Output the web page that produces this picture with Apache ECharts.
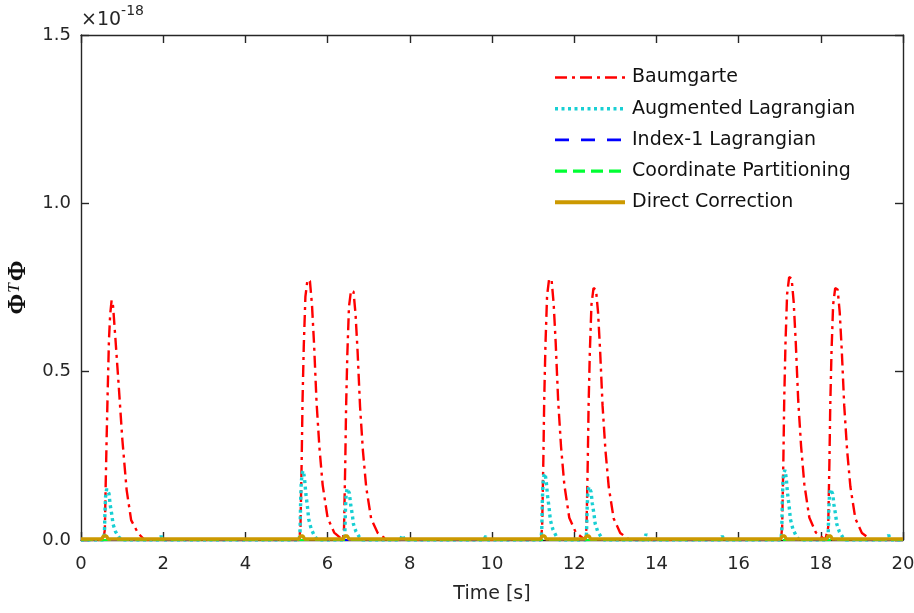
<!DOCTYPE html>
<html lang="en">
<head>
    <meta charset="UTF-8">
    <title>Phi^T Phi vs time</title>
    <script src="https://cdn.jsdelivr.net/npm/echarts@6/dist/echarts.min.js"></script>
    <style>
        html, body { margin: 0; padding: 0; background: #fff; }
        #main { width: 914px; height: 613px; }
    </style>
</head>
<body>
<div id="main"></div>
<script>
    // x tick values and y tick labels (values in units of 1e-18)
    var xTicks = [0, 2, 4, 6, 8, 10, 12, 14, 16, 18, 20];
    var yTickLabels = ['0.0', '0.5', '1.0', '1.5'];
    var seriesNames = ['Baumgarte', 'Augmented Lagrangian', 'Index-1 Lagrangian',
        'Coordinate Partitioning', 'Direct Correction'];

    // Baumgarte: [time, value]
    var baumgarte = [
        [0, 0],
        [0.54, 0], [0.58, 0.03], [0.60, 0.16], [0.625, 0.31], [0.65, 0.445], [0.68, 0.594], [0.71, 0.67],
        [0.745, 0.712], [0.78, 0.695], [0.84, 0.594], [0.925, 0.445], [1.005, 0.30], [1.11, 0.149],
        [1.22, 0.059], [1.39, 0.02], [1.55, 0],
        [5.31, 0], [5.34, 0.039], [5.37, 0.241], [5.39, 0.412], [5.42, 0.575], [5.46, 0.723], [5.51, 0.773],
        [5.54, 0.777], [5.57, 0.769], [5.62, 0.699], [5.67, 0.583], [5.73, 0.412], [5.80, 0.276],
        [5.88, 0.163], [6.00, 0.066], [6.16, 0.022], [6.37, 0],
        [6.40, 0.037], [6.43, 0.231], [6.45, 0.395], [6.48, 0.551], [6.52, 0.693], [6.57, 0.741],
        [6.60, 0.745], [6.63, 0.738], [6.68, 0.671], [6.73, 0.559], [6.79, 0.395], [6.86, 0.264],
        [6.94, 0.156], [7.06, 0.063], [7.22, 0.021], [7.45, 0],
        [11.19, 0], [11.22, 0.039], [11.25, 0.242], [11.27, 0.413], [11.30, 0.577], [11.34, 0.725], [11.39, 0.776],
        [11.42, 0.780], [11.45, 0.772], [11.50, 0.702], [11.55, 0.585], [11.61, 0.413], [11.68, 0.277],
        [11.76, 0.164], [11.88, 0.066], [12.04, 0.022], [12.27, 0],
        [12.30, 0.038], [12.33, 0.233], [12.35, 0.399], [12.38, 0.556], [12.42, 0.699], [12.47, 0.748],
        [12.50, 0.752], [12.53, 0.744], [12.58, 0.677], [12.63, 0.564], [12.69, 0.399], [12.76, 0.267],
        [12.84, 0.158], [12.96, 0.064], [13.12, 0.021], [13.35, 0],
        [17.03, 0], [17.06, 0.039], [17.09, 0.243], [17.11, 0.416], [17.14, 0.581], [17.18, 0.730], [17.23, 0.781],
        [17.26, 0.785], [17.29, 0.777], [17.34, 0.707], [17.39, 0.589], [17.45, 0.416], [17.52, 0.279],
        [17.60, 0.165], [17.72, 0.067], [17.88, 0.022], [18.11, 0],
        [18.15, 0], [18.18, 0.038], [18.21, 0.233], [18.23, 0.399], [18.26, 0.556], [18.30, 0.699], [18.35, 0.748],
        [18.38, 0.752], [18.41, 0.744], [18.46, 0.677], [18.51, 0.564], [18.57, 0.399], [18.64, 0.267],
        [18.72, 0.158], [18.84, 0.064], [19.00, 0.021], [19.23, 0],
        [20, 0]
    ];

    // Augmented Lagrangian
    var augmented = [
        [0, 0],
        [0.55, 0], [0.57, 0.020], [0.585, 0.091], [0.60, 0.132], [0.625, 0.152], [0.65, 0.157], [0.68, 0.138],
        [0.71, 0.105], [0.75, 0.075], [0.78, 0.047], [0.84, 0.025], [0.92, 0.009], [1.00, 0],
        [1.90, 0], [1.95, 0.012], [2.00, 0],
        [5.31, 0], [5.33, 0.027], [5.345, 0.119], [5.36, 0.173], [5.385, 0.200], [5.41, 0.206], [5.44, 0.181],
        [5.47, 0.138], [5.51, 0.099], [5.54, 0.062], [5.60, 0.033], [5.68, 0.012], [5.76, 0],
        [6.40, 0], [6.42, 0.021], [6.435, 0.092], [6.45, 0.133], [6.475, 0.153], [6.50, 0.158], [6.53, 0.139],
        [6.56, 0.106], [6.60, 0.076], [6.63, 0.047], [6.69, 0.025], [6.77, 0.009], [6.85, 0],
        [7.77, 0], [7.82, 0.015], [7.87, 0],
        [9.80, 0], [9.85, 0.012], [9.90, 0],
        [11.19, 0], [11.21, 0.026], [11.225, 0.115], [11.24, 0.166], [11.265, 0.192], [11.29, 0.198], [11.32, 0.174],
        [11.35, 0.133], [11.39, 0.095], [11.42, 0.059], [11.48, 0.032], [11.56, 0.012], [11.64, 0],
        [12.28, 0], [12.30, 0.021], [12.315, 0.095], [12.33, 0.137], [12.355, 0.158], [12.38, 0.163], [12.41, 0.143],
        [12.44, 0.109], [12.48, 0.078], [12.51, 0.049], [12.57, 0.026], [12.65, 0.010], [12.73, 0],
        [13.70, 0], [13.75, 0.018], [13.80, 0],
        [15.55, 0], [15.60, 0.012], [15.65, 0],
        [17.03, 0], [17.05, 0.027], [17.065, 0.121], [17.08, 0.175], [17.105, 0.202], [17.13, 0.208], [17.16, 0.183],
        [17.19, 0.139], [17.23, 0.100], [17.26, 0.062], [17.32, 0.033], [17.40, 0.012], [17.48, 0],
        [18.16, 0], [18.18, 0.020], [18.195, 0.090], [18.21, 0.131], [18.235, 0.151], [18.26, 0.156], [18.29, 0.137],
        [18.32, 0.105], [18.36, 0.075], [18.39, 0.047], [18.45, 0.025], [18.53, 0.009], [18.61, 0],
        [19.60, 0], [19.65, 0.015], [19.70, 0],
        [20, 0]
    ];

    // Index-1 Lagrangian and Coordinate Partitioning stay on zero
    var index1 = [[0, 0], [20, 0]];
    var coordPart = [[0, 0], [20, 0]];

    // Direct Correction: almost zero, small steps at the start of each event
    var direct = [
        [0, 0.003], [0.50, 0.003], [0.55, 0.012], [0.62, 0.012], [0.66, 0.003],
        [5.30, 0.003], [5.34, 0.012], [5.40, 0.012], [5.44, 0.003],
        [6.38, 0.003], [6.42, 0.012], [6.48, 0.012], [6.52, 0.003],
        [11.18, 0.003], [11.22, 0.012], [11.28, 0.012], [11.32, 0.003],
        [12.26, 0.003], [12.30, 0.012], [12.36, 0.012], [12.40, 0.003],
        [17.02, 0.003], [17.06, 0.012], [17.12, 0.012], [17.16, 0.003],
        [18.14, 0.003], [18.18, 0.012], [18.24, 0.012], [18.28, 0.003],
        [20, 0.003]
    ];

    var colors = ['#ff0000', '#18cfd3', '#0000ff', '#00ff33', '#cc9900'];
    var widths = [2.4, 3.4, 2, 2.2, 3.5];
    var legendWidths = [2.6, 3.6, 2.6, 3.2, 4];
    var dashes = [[12, 5, 3, 5], [3, 3.5], [14, 12], [12, 6], 'solid'];

    var axisColor = '#262626';
    var font = 'DejaVu Sans';

    var chart = echarts.init(document.getElementById('main'));

    function lineSeries(i, data) {
        return {
            name: seriesNames[i],
            type: 'line',
            data: data,
            xAxisIndex: 0,
            yAxisIndex: 0,
            symbol: 'none',
            lineStyle: {color: colors[i], width: widths[i], type: dashes[i]},
            itemStyle: {color: colors[i]}
        };
    }

    // top/right copies only draw the box and the inner ticks
    function xAxis(pos, withLabels) {
        return {
            type: 'value',
            min: xTicks[0],
            max: xTicks[xTicks.length - 1],
            interval: 2,
            position: pos,
            name: withLabels ? 'Time [s]' : '',
            nameLocation: 'middle',
            nameGap: 45,
            nameTextStyle: {fontFamily: font, fontSize: 19, color: axisColor},
            axisLine: {onZero: false, lineStyle: {color: axisColor, width: 1.4}},
            axisTick: {inside: true, length: 8, lineStyle: {color: axisColor, width: 1.4}},
            axisLabel: {show: withLabels, fontFamily: font, fontSize: 18, color: axisColor, margin: 15,
                showMinLabel: true, showMaxLabel: true},
            splitLine: {show: false}
        };
    }

    function yAxis(pos, withLabels) {
        return {
            type: 'value',
            min: 0,
            max: 1.5,
            interval: 0.5,
            position: pos,
            name: withLabels ? '{p|Φ}{s|T}{p|Φ}' : '',
            nameLocation: 'middle',
            nameGap: 40,
            nameTextStyle: {
                rich: {
                    p: {fontFamily: 'Liberation Serif', fontWeight: 'bold', fontSize: 25, color: '#111', lineHeight: 26},
                    s: {fontFamily: 'Liberation Serif', fontStyle: 'italic', fontSize: 17, color: '#111',
                        verticalAlign: 'top', lineHeight: 14, padding: [0, 2, 0, 1]}
                }
            },
            axisLine: {show: true, onZero: false, lineStyle: {color: axisColor, width: 1.4}},
            axisTick: {show: true, inside: true, length: 8, lineStyle: {color: axisColor, width: 1.4}},
            axisLabel: {
                show: withLabels, fontFamily: font, fontSize: 18, color: axisColor, margin: 10,
                showMinLabel: true, showMaxLabel: true,
                formatter: function (v, i) { return yTickLabels[i]; }
            },
            splitLine: {show: false}
        };
    }

    var legendData = seriesNames.map(function (n, i) {
        return {name: n, lineStyle: {width: legendWidths[i]}};
    });

    var option = {
        backgroundColor: '#fff',
        animation: false,
        grid: {left: 81, right: 11, top: 35, bottom: 73, outerBoundsMode: 'none', containLabel: false},
        graphic: [{
            type: 'text',
            left: 81,
            top: 4,
            style: {
                text: '{a|×10}{b|-18}',
                rich: {
                    a: {fontFamily: font, fontSize: 19, fill: axisColor, lineHeight: 26, verticalAlign: 'bottom'},
                    b: {fontFamily: font, fontSize: 14, fill: axisColor, lineHeight: 26, verticalAlign: 'top'}
                }
            }
        }],
        legend: {
            orient: 'vertical',
            left: 553,
            top: 68,
            padding: 0,
            itemWidth: 70,
            itemHeight: 14,
            itemGap: 12.2,
            itemStyle: {opacity: 0},
            data: legendData,
            textStyle: {fontFamily: font, fontSize: 19, color: '#111', padding: [0, 0, 0, 2]}
        },
        xAxis: [xAxis('bottom', true), xAxis('top', false)],
        yAxis: [yAxis('left', true), yAxis('right', false)],
        series: [
            lineSeries(0, baumgarte),
            lineSeries(1, augmented),
            lineSeries(2, index1),
            lineSeries(3, coordPart),
            lineSeries(4, direct)
        ]
    };

    chart.setOption(option);
</script>
</body>
</html>
